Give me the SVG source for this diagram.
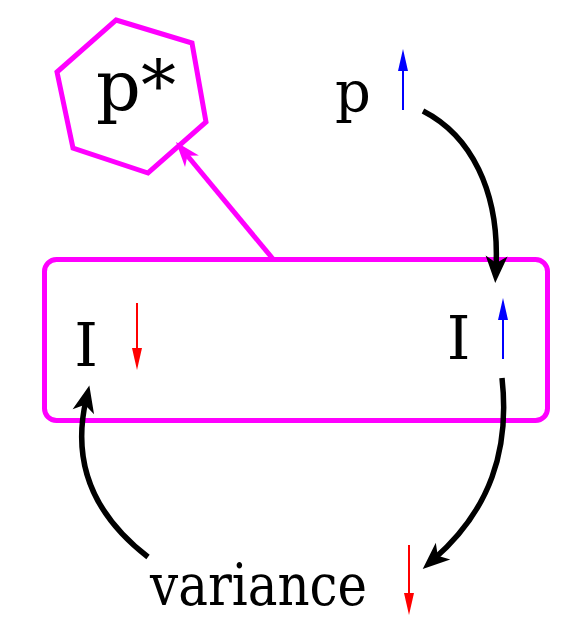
<svg xmlns="http://www.w3.org/2000/svg" width="561" height="618" viewBox="0 0 561 618">
<style>
text{font-family:'DejaVu Serif','Liberation Serif',serif;fill:#000}
.mid{text-anchor:middle}
.mag{fill:none;stroke:#ff00ff;stroke-width:5}
.blk{fill:none;stroke:#000;stroke-width:5.5}
.blue{stroke:#0000ff;stroke-width:2;fill:none}
.red{stroke:#ff0000;stroke-width:2;fill:none}
</style>
<defs>
<marker id="ahBlk" markerUnits="userSpaceOnUse" viewBox="-14 -14 32 28" refX="0" refY="0" markerWidth="32" markerHeight="28" orient="auto" overflow="visible">
<path d="M15,0 L-12,-11 L-5,0 L-12,11 z" fill="#000"/>
</marker>
<marker id="ahMag" markerUnits="userSpaceOnUse" viewBox="-14 -11 28 22" refX="0" refY="0" markerWidth="28" markerHeight="22" orient="auto" overflow="visible">
<path d="M13,0 L-12,-9 L-5,0 L-12,9 z" fill="#ff00ff"/>
</marker>
<marker id="ahBlue" markerUnits="userSpaceOnUse" viewBox="0 -6 23 12" refX="0" refY="0" markerWidth="23" markerHeight="12" orient="auto" overflow="visible">
<path d="M22,0 L0,-5 L0,5 z" fill="#0000ff"/>
</marker>
<marker id="ahRed" markerUnits="userSpaceOnUse" viewBox="0 -6 23 12" refX="0" refY="0" markerWidth="23" markerHeight="12" orient="auto" overflow="visible">
<path d="M22,0 L0,-5 L0,5 z" fill="#ff0000"/>
</marker>
</defs>
<g id="node-pstar">
<polygon class="mag" points="116,20 192,43 206,122 148,173 73,148 57,72"/>
<text class="mid" x="136" y="110" font-size="70">p*</text>
</g>
<g id="node-p">
<text class="mid" x="353" y="111" font-size="56">p</text>
<line class="blue" x1="403" y1="110" x2="403" y2="71" marker-end="url(#ahBlue)"/>
</g>
<g id="node-box">
<rect class="mag" x="44.5" y="259.5" width="503" height="161" rx="12" ry="12"/>
</g>
<g id="node-I-left">
<text class="mid" x="86" y="366" font-size="60">I</text>
<line class="red" x1="137" y1="303" x2="137" y2="348" marker-end="url(#ahRed)"/>
</g>
<g id="node-I-right">
<text class="mid" x="458.5" y="359" font-size="60">I</text>
<line class="blue" x1="503" y1="359" x2="503" y2="320" marker-end="url(#ahBlue)"/>
</g>
<g id="node-variance">
<text x="150" y="605" font-size="57" textLength="217" lengthAdjust="spacingAndGlyphs">variance</text>
<line class="red" x1="409" y1="545" x2="409" y2="593" marker-end="url(#ahRed)"/>
</g>
<g id="connectors">
<line class="mag" x1="273" y1="259" x2="184.3" y2="152" marker-end="url(#ahMag)"/>
<path class="blk" d="M423,111 C470,135 500,190 496,268" marker-end="url(#ahBlk)"/>
<path class="blk" d="M502,378 C510,450 490,510 434,559" marker-end="url(#ahBlk)"/>
<path class="blk" d="M148,557 C100,520 70,470 86,400" marker-end="url(#ahBlk)"/>
</g>
</svg>
